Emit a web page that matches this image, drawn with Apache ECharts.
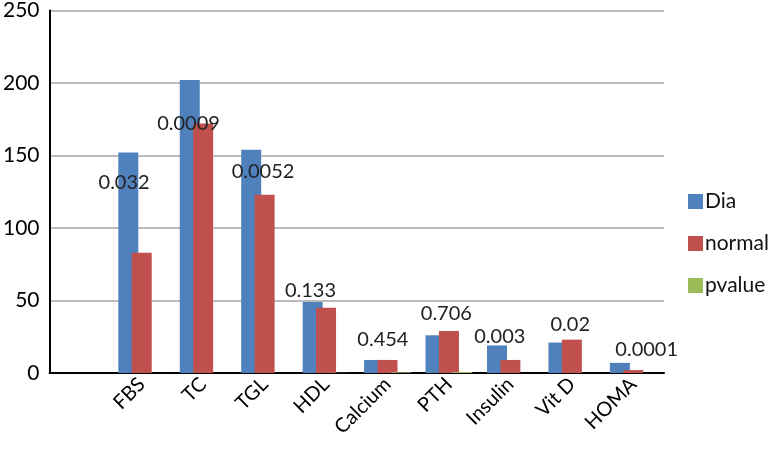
<!DOCTYPE html>
<html>
<head>
<meta charset="utf-8">
<script src="https://cdn.jsdelivr.net/npm/echarts@6/dist/echarts.min.js"></script>
<style>
html, body { margin: 0; padding: 0; background: #fff; }
#main { width: 774px; height: 450px; }
</style>
</head>
<body>
<div id="main"></div>
<script>
// categories (first slot is empty in the original)
var categories = ['', 'FBS', 'TC', 'TGL', 'HDL', 'Calcium', 'PTH', 'Insulin', 'Vit D', 'HOMA'];
var dia = [null, 152, 202, 154, 49, 9, 26, 19, 21, 7];
var normal = [null, 83, 172, 123, 45, 9, 29, 9, 23, 2];
var pvalue = [null, 0.032, 0.0009, 0.0052, 0.133, 0.454, 0.706, 0.003, 0.02, 0.0001];
var pvalueText = ['', '0.032', '0.0009', '0.0052', '0.133', '0.454', '0.706', '0.003', '0.02', '0.0001'];
var yTicks = [0, 50, 100, 150, 200, 250];

// where the p value labels were dragged to (pixel shift from the bar)
var labelShift = [[0, 0], [-31, -190], [-28, -249], [-15, -201], [-29, -82], [-18, -33], [-16, -59], [-24, -36], [-15, -48], [0, -23]];

var font = 'Lato, "Open Sans", sans-serif';

var pData = pvalue.map(function (v, i) {
	return {
		value : v,
		label : {
			show : v !== null,
			position : 'inside',
			offset : labelShift[i],
			formatter : pvalueText[i]
		}
	};
});

var myChart = echarts.init(document.getElementById('main'));
myChart.setOption({
	animation : false,
	backgroundColor : '#fff',
	textStyle : { fontFamily : font },
	grid : { left : 45, right : 110, top : 10, bottom : 77 },
	legend : {
		orient : 'vertical',
		left : 683,
		top : 186,
		itemWidth : 15,
		itemHeight : 15,
		itemGap : 21,
		icon : 'rect',
		data : ['Dia', 'normal', 'pvalue'],
		textStyle : { fontSize : 21, color : '#111', fontFamily : font, padding : [0, 0, 0, -3] }
	},
	xAxis : {
		type : 'category',
		data : categories,
		axisTick : { show : false },
		axisLine : { lineStyle : { color : '#000', width : 2 } },
		axisLabel : { rotate : 45, fontSize : 20, color : '#000', margin : 8, interval : 0, fontFamily : font }
	},
	yAxis : {
		type : 'value',
		min : yTicks[0],
		max : yTicks[yTicks.length - 1],
		interval : 50,
		axisLine : { show : true, lineStyle : { color : '#000', width : 2 } },
		axisTick : { show : false },
		axisLabel : { fontSize : 21, color : '#000', margin : 10, fontFamily : font },
		splitLine : { lineStyle : { color : '#a6a6a6', width : 1.5 } }
	},
	series : [ {
		name : 'Dia',
		type : 'bar',
		data : dia,
		barWidth : 20,
		barGap : '-33%',
		itemStyle : { color : '#4f81bd' }
	}, {
		name : 'normal',
		type : 'bar',
		data : normal,
		barWidth : 20,
		barGap : '-33%',
		itemStyle : { color : '#c0504d' }
	}, {
		name : 'pvalue',
		type : 'bar',
		data : pData,
		barWidth : 20,
		barGap : '-33%',
		itemStyle : { color : '#9bbb59' },
		label : { fontSize : 20, color : '#222', fontFamily : font }
	} ]
});
</script>
</body>
</html>
